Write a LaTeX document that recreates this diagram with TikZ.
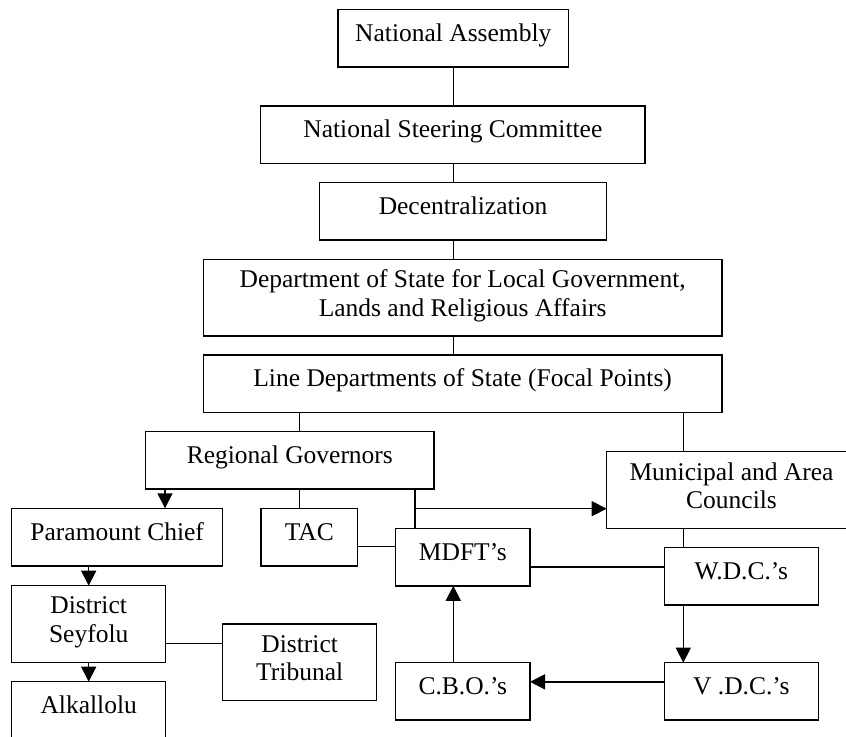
\documentclass[tikz,border=0pt]{standalone}
\usepackage{fontspec}
\setmainfont{Liberation Serif}
\usetikzlibrary{arrows.meta}

\begin{document}
\begin{tikzpicture}[
    x=0.5pt, y=-0.5pt,
    line width=0.75pt,
    >={Triangle[length=7.5pt,width=7.5pt]},
    unit/.style={draw, anchor=north west, inner sep=0pt, outer sep=0pt, align=center,
                 font=\fontsize{12.75pt}{14.4pt}\selectfont},
    oneline/.style={unit, minimum height=28.75pt, text height=9pt, text depth=6pt},
    twoline/.style={unit, minimum height=38.35pt,
                    execute at begin node=\strut,
                    execute at end node={\rule[-2.4pt]{0pt}{2.4pt}}}
]
\useasboundingbox (0,0) rectangle (846,737);
\clip (0,0) rectangle (846,737);

\node[oneline, minimum width=115.3pt] (assembly) at (338,9.3) {National Assembly};
\node[oneline, minimum width=192.15pt] (steering) at (260.7,106) {National Steering Committee};
\node[oneline, minimum width=143.7pt] (decentral) at (319.3,182.7) {Decentralization};
\node[twoline, minimum width=259.35pt] (dosl) at (203.3,259.3)
    {Department of State for Local Government,\\Lands and Religious Affairs};
\node[oneline, minimum width=259.35pt] (linedep) at (203.3,355) {Line Departments of State (Focal Points)};
\node[oneline, minimum width=144.15pt] (regional) at (145.7,431.7) {Regional Governors};
\node[twoline, minimum width=124.8pt] (municipal) at (606.7,451.7) {Municipal and Area\\Councils};
\node[oneline, minimum width=105.5pt] (paramount) at (11.7,508.3) {Paramount Chief};
\node[oneline, minimum width=48.35pt] (tac) at (261,508.3) {TAC};
\node[oneline, minimum width=67.15pt] (mdft) at (395.7,528.3) {MDFT’s};
\node[oneline, minimum width=77pt] (wdc) at (664.3,547.3) {W.D.C.’s};
\node[twoline, minimum width=77pt] (seyfolu) at (11.7,585.7) {District\\Seyfolu};
\node[twoline, minimum width=77pt] (tribunal) at (222.7,624) {District\\Tribunal};
\node[oneline, minimum width=67.15pt] (cbo) at (395.7,662.7) {C.B.O.’s};
\node[oneline, minimum width=77pt] (vdc) at (664.3,662.7) {V .D.C.’s};
\node[oneline, minimum width=77pt] (alkallolu) at (11.7,681.7) {Alkallolu};

\coordinate (spine) at (453.3,0);
\coordinate (gov) at (299.3,0);
\coordinate (mun) at (683.3,0);
\coordinate (chief) at (165,0);
\coordinate (fork) at (415,508.7);

\draw (spine |- assembly.south) -- (spine |- steering.north);
\draw (spine |- steering.south) -- (spine |- decentral.north);
\draw (spine |- decentral.south) -- (spine |- dosl.north);
\draw (spine |- dosl.south) -- (spine |- linedep.north);
\draw (gov |- linedep.south) -- (gov |- regional.north);
\draw (gov |- regional.south) -- (gov |- tac.north);
\draw (mun |- linedep.south) -- (mun |- municipal.north);
\draw (mun |- municipal.south) -- (mun |- wdc.north);
\draw[->] (mun |- wdc.south) -- (mun |- vdc.north);
\draw[->] (chief |- regional.south) -- (chief |- paramount.north);
\draw[->] (seyfolu.north |- paramount.south) -- (seyfolu.north);
\draw[->] (seyfolu.south) -- (alkallolu.north);
\draw ([yshift=-9.6pt]seyfolu.east) -- ([yshift=-9.6pt]seyfolu.east -| tribunal.west);
\draw (fork |- regional.south) -- (fork |- mdft.north);
\draw[->] (fork) -- (fork -| municipal.west);
\draw ([yshift=-4.6pt]tac.east) -- ([yshift=-4.6pt]tac.east -| mdft.west);
\draw ([yshift=-4.85pt]mdft.east) -- ([yshift=-4.85pt]mdft.east -| wdc.west);
\draw[->] ([yshift=4.8pt]vdc.west) -- ([yshift=4.8pt]vdc.west -| cbo.east);
\draw[->] (spine |- cbo.north) -- (spine |- mdft.south);
\end{tikzpicture}
\end{document}
